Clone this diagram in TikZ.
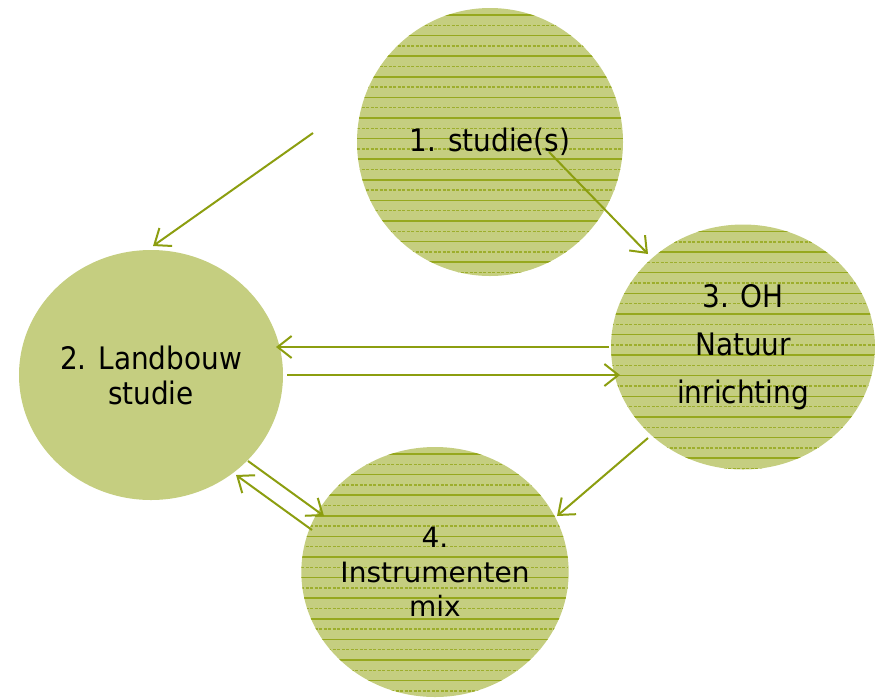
\documentclass[tikz,border=0pt]{standalone}
\usepackage{fontspec}
\setmainfont{DejaVu Sans}[FakeStretch=0.9]
\newfontfamily\widefont{DejaVu Sans}
\usetikzlibrary{arrows.meta,shapes.geometric}
\definecolor{blobfill}{RGB}{197,206,128}
\definecolor{stripecol}{RGB}{150,168,30}
\definecolor{arrowcol}{RGB}{140,158,16}
\tikzset{
  blob/.style={ellipse, fill=blobfill, inner sep=0pt, align=center,
    font=\fontsize{31}{35}\selectfont, text=black},
  striped/.style={path picture={
    \foreach \i in {0,...,13}{
      \draw[stripecol, line width=1.5pt]
        ([yshift={-7pt-\i*20.6pt}]path picture bounding box.north west) --
        ([yshift={-7pt-\i*20.6pt}]path picture bounding box.north east);
      \draw[stripecol!85!blobfill, line width=1.4pt, dash pattern=on 3pt off 1.5pt]
        ([yshift={-17.3pt-\i*20.6pt}]path picture bounding box.north west) --
        ([yshift={-17.3pt-\i*20.6pt}]path picture bounding box.north east);
    }}},
  link/.style={draw=arrowcol, line width=2pt,
    -{Straight Barb[length=14pt,width=22pt,line width=2pt]}}
}
\begin{document}
\begin{tikzpicture}[x=1pt,y=-1pt]
\useasboundingbox (0,0) rectangle (875,697);
\node[blob, striped, minimum width=266pt, minimum height=268pt] (c1) at (490,142) {1. studie(s)};
\node[blob, minimum width=264pt, minimum height=250pt] (c2) at (151,375) {2. Landbouw\\studie};
\node[blob, striped, minimum width=264pt, minimum height=245pt,
      font=\fontsize{31}{48}\selectfont] (c3) at (743,347) {3. OH\\Natuur\\inrichting};
\node[blob, striped, minimum width=266pt, minimum height=250pt,
      font=\widefont\fontsize{28}{34.5}\selectfont] (c4) at (435,572) {4.\\Instrumenten\\mix};
% connector end points
\coordinate (a0) at (313,133);
\coordinate (a1) at (153,246);
\coordinate (b0) at (549,152);
\coordinate (b1) at (648,254);
\coordinate (d0) at (609,347);
\coordinate (d1) at (276,347);
\coordinate (e0) at (287,375);
\coordinate (e1) at (620,375);
\coordinate (f0) at (648,438);
\coordinate (f1) at (557,516);
\coordinate (g0) at (248,461);
\coordinate (g1) at (324,516);
\coordinate (h0) at (312,530);
\coordinate (h1) at (236,475);
\draw[link] (a0) -- (a1);
\draw[link] (b0) -- (b1);
\draw[link] (d0) -- (d1);
\draw[link] (e0) -- (e1);
\draw[link] (f0) -- (f1);
\draw[link] (g0) -- (g1);
\draw[link] (h0) -- (h1);
\end{tikzpicture}
\end{document}
